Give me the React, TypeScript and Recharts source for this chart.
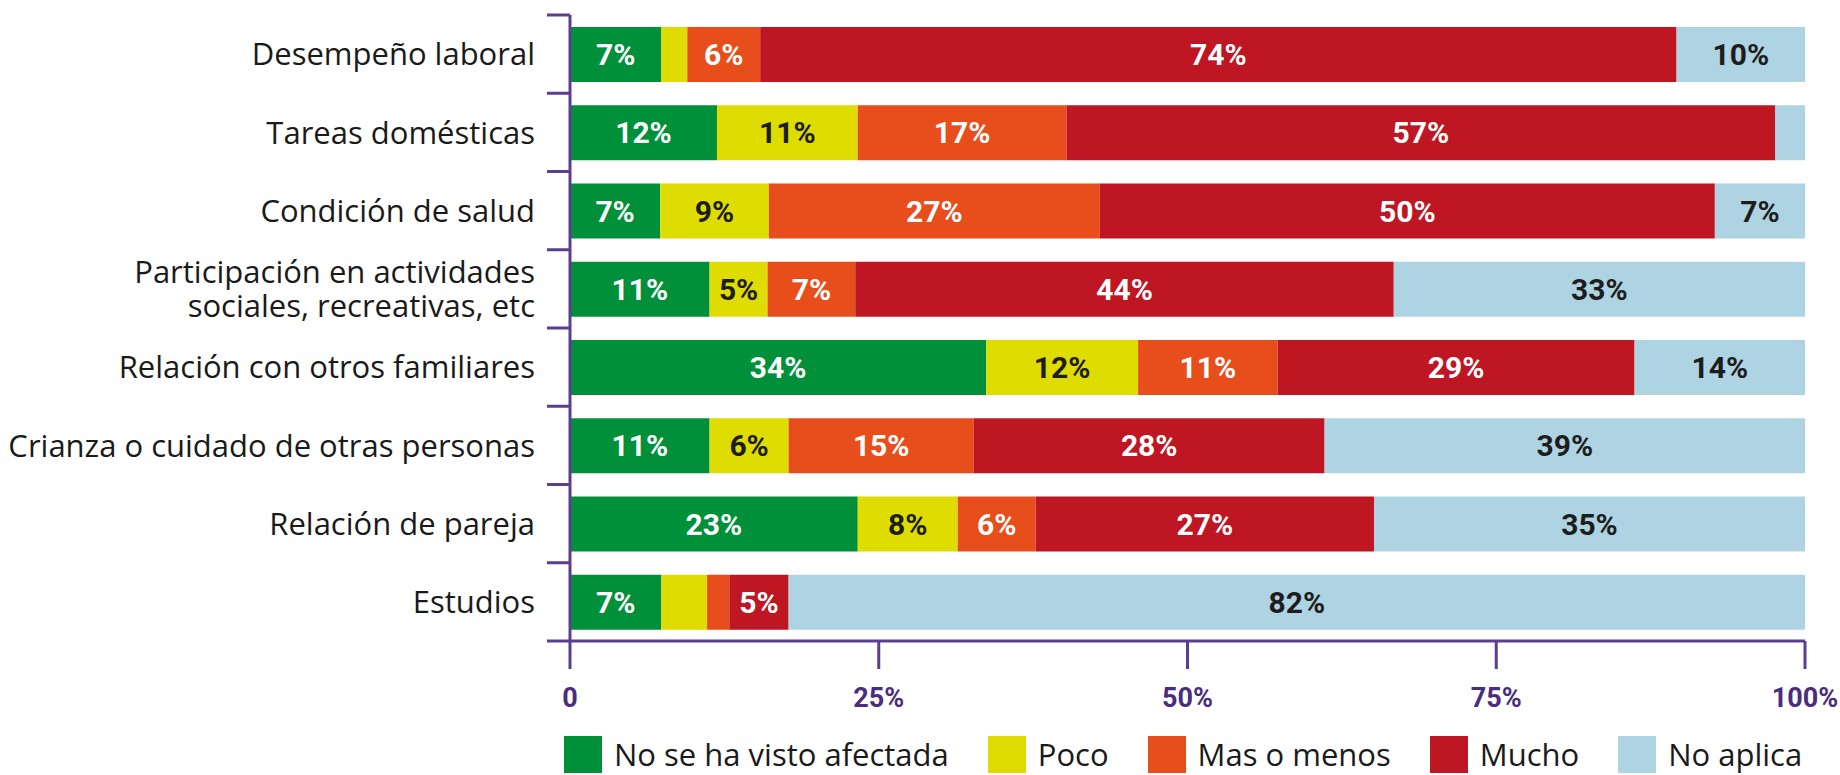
import React from "react";
import { BarChart, Bar, XAxis, YAxis, LabelList } from "recharts";

const CATEGORIES = [
  "Desempeño laboral",
  "Tareas domésticas",
  "Condición de salud",
  "Participación en actividades\nsociales, recreativas, etc",
  "Relación con otros familiares",
  "Crianza o cuidado de otras personas",
  "Relación de pareja",
  "Estudios",
];
const NO_AFECTADA = [7.4, 11.9, 7.3, 11.3, 33.7, 11.3, 23.3, 7.4];
const POCO = [2.1, 11.4, 8.8, 4.7, 12.3, 6.4, 8.1, 3.7];
const MAS_O_MENOS = [5.9, 16.9, 26.8, 7.1, 11.3, 15.0, 6.3, 1.8];
const MUCHO = [74.2, 57.4, 49.8, 43.6, 28.9, 28.4, 27.4, 4.8];
const NO_APLICA = [10.4, 2.4, 7.3, 33.3, 13.8, 38.9, 34.9, 82.3];

const X_TICKS = [0, 25, 50, 75, 100];

const SERIES = [
  { key: "noAfectada", name: "No se ha visto afectada", values: NO_AFECTADA, color: "#00903A", text: "#ffffff" },
  { key: "poco", name: "Poco", values: POCO, color: "#DEDC00", text: "#1D1D1B" },
  { key: "masOMenos", name: "Mas o menos", values: MAS_O_MENOS, color: "#E84E1C", text: "#ffffff" },
  { key: "mucho", name: "Mucho", values: MUCHO, color: "#BE1622", text: "#ffffff" },
  { key: "noAplica", name: "No aplica", values: NO_APLICA, color: "#AED4E3", text: "#1D1D1B" },
];

const data = CATEGORIES.map((name, i) => {
  const row: any = { name };
  SERIES.forEach((s) => {
    row[s.key] = s.values[i];
  });
  return row;
});

const W = 1840;
const H = 775;
const PLOT_TOP = 15;
const PLOT_BOTTOM = 641;
const AXIS_X = 570;
const PLOT_RIGHT = 1805;
const X_AXIS_H = 60;
const BAND = (PLOT_BOTTOM - PLOT_TOP) / CATEGORIES.length;
const PURPLE = "#5B3E92";
const TICK_TEXT = "#4A2D7E";

const CategoryTick = (props: any) => {
  const { y, payload, index } = props;
  const lines = String(payload.value).split("\n");
  const lh = 34;
  const y0 = y - ((lines.length - 1) * lh) / 2;
  return (
    <g>
      <line x1={AXIS_X - 23} x2={AXIS_X} y1={y - BAND / 2} y2={y - BAND / 2} stroke={PURPLE} strokeWidth={3} />
      {index === CATEGORIES.length - 1 && (
        <line x1={AXIS_X - 23} x2={AXIS_X} y1={y + BAND / 2} y2={y + BAND / 2} stroke={PURPLE} strokeWidth={3} />
      )}
      <text x={AXIS_X - 35} y={y0} textAnchor="end" fontFamily="'Open Sans', sans-serif" fontSize={31} fill="#1a1a1a">
        {lines.map((l, i) => (
          <tspan key={i} x={AXIS_X - 35} y={y0 + i * lh} dy="0.36em">
            {l}
          </tspan>
        ))}
      </text>
    </g>
  );
};

const fmt = (v: any) => {
  const n = Number(v);
  return n >= 4.5 ? `${Math.round(n)}%` : "";
};

export default function App() {
  return (
    <div style={{ position: "absolute", left: 0, top: 0, width: W, height: H, background: "#fff" }}>
      <BarChart
        width={W}
        height={H}
        data={data}
        layout="vertical"
        margin={{ top: PLOT_TOP, right: W - PLOT_RIGHT, bottom: H - PLOT_BOTTOM - X_AXIS_H, left: 0 }}
        barSize={55}
      >
        <XAxis
          type="number"
          domain={[0, 100]}
          ticks={X_TICKS}
          interval={0}
          height={X_AXIS_H}
          tickFormatter={(v: number) => (v === 0 ? "0" : `${v}%`)}
          axisLine={{ stroke: PURPLE, strokeWidth: 3 }}
          tickLine={{ stroke: PURPLE, strokeWidth: 3 }}
          tickSize={28}
          tickMargin={19}
          tick={{ fill: TICK_TEXT, fontSize: 27, fontWeight: 700, fontFamily: "Roboto, sans-serif" }}
        />
        <YAxis
          type="category"
          dataKey="name"
          width={AXIS_X}
          interval={0}
          axisLine={{ stroke: PURPLE, strokeWidth: 3 }}
          tickLine={false}
          tick={<CategoryTick />}
        />
        {SERIES.map((s) => (
          <Bar key={s.key} dataKey={s.key} name={s.name} stackId="a" fill={s.color} isAnimationActive={false}>
            <LabelList
              dataKey={s.key}
              position="center"
              formatter={fmt}
              fill={s.text}
              stroke="none"
              fontSize={30}
              fontWeight={700}
              fontFamily="Roboto, sans-serif"
            />
          </Bar>
        ))}
      </BarChart>
      <div
        style={{
          position: "absolute",
          left: 564,
          top: 736,
          display: "flex",
          alignItems: "center",
          gap: 39,
          fontFamily: "'Open Sans', sans-serif",
          fontSize: 31,
          color: "#1a1a1a",
          whiteSpace: "nowrap",
        }}
      >
        {SERIES.map((s) => (
          <div key={s.key} style={{ display: "flex", alignItems: "center" }}>
            <div style={{ width: 38, height: 37, background: s.color, marginRight: 12 }} />
            <span style={{ lineHeight: "37px" }}>{s.name}</span>
          </div>
        ))}
      </div>
    </div>
  );
}
